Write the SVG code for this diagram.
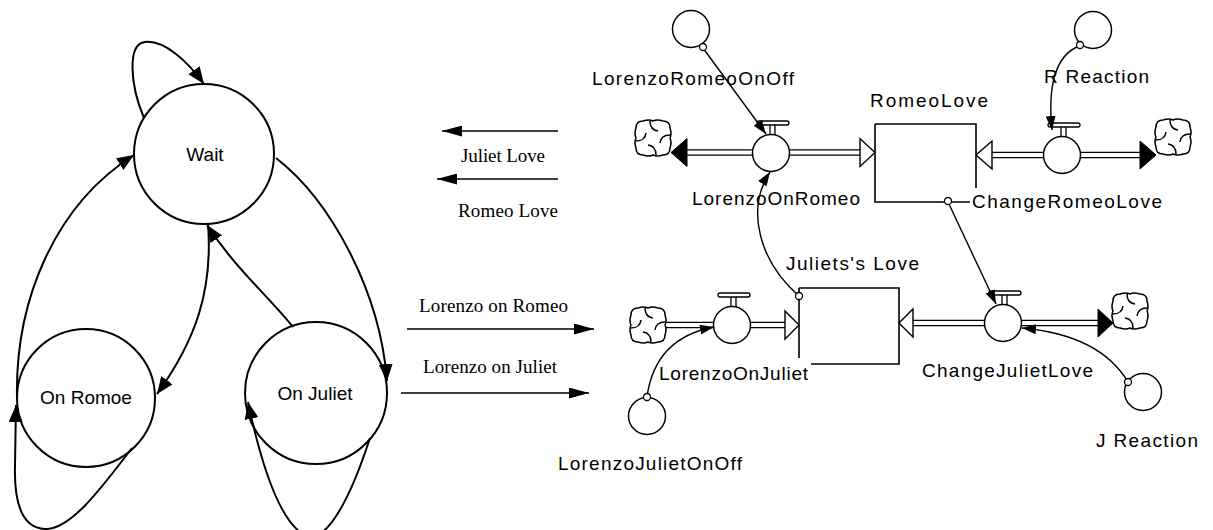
<svg xmlns="http://www.w3.org/2000/svg" width="1213" height="530" viewBox="0 0 1213 530">
<style>
.st{fill:#fff;stroke:#000;stroke-width:2}
.tr{fill:none;stroke:#000;stroke-width:2}
.sans{font-family:"Liberation Sans",Arial,sans-serif;font-size:19px;fill:#000}
.ser{font-family:"Liberation Serif","Times New Roman",serif;font-size:19px;fill:#000}
.box{fill:none;stroke:#000;stroke-width:1.6}
.aux{fill:#fff;stroke:#000;stroke-width:1.5}
.cn{fill:none;stroke:#000;stroke-width:1.4}
.dot{fill:#fff;stroke:#000;stroke-width:1.3}
.pipeO{stroke:#000;stroke-width:6.5;fill:none}
.pipeI{stroke:#fff;stroke-width:4;fill:none}
.hol{fill:#fff;stroke:#000;stroke-width:1.4}
.fil{fill:#000;stroke:#000;stroke-width:1}
.bg{fill:#fff}
</style>
<defs>
<marker id="aL" markerUnits="userSpaceOnUse" markerWidth="18" markerHeight="14" refX="17" refY="7" orient="auto"><path d="M0,0 L17,7 L0,14 Z" fill="#000"/></marker>
<marker id="aM" markerUnits="userSpaceOnUse" markerWidth="21" markerHeight="11" refX="20" refY="5.5" orient="auto"><path d="M0,0 L20,5.5 L0,11 Z" fill="#000"/></marker>
<marker id="aC" markerUnits="userSpaceOnUse" markerWidth="15" markerHeight="11" refX="14" refY="5" orient="auto"><path d="M0,0 L14,5 L0,10 Z" fill="#000"/></marker>
<g id="cloud">
<path d="M-10,-17 Q-4,-19 0,-17 Q4,-19 10,-17 Q17,-17 17,-10 Q19,-4 17,0 Q19,4 17,10 Q17,17 10,17 Q4,19 0,17 Q-4,19 -10,17 Q-17,17 -17,10 Q-19,4 -17,0 Q-19,-4 -17,-10 Q-17,-17 -10,-17 Z" fill="#fff" stroke="#000" stroke-width="1.5"/>
<path d="M-3,-17 Q-3,-8 5,-7 M17,-3 Q8,-3 7,5 M3,17 Q3,8 -5,7 M-17,3 Q-8,3 -7,-5" fill="none" stroke="#000" stroke-width="1.5"/>
</g>
<g id="valve">
<rect x="-14" y="-32" width="32" height="4" rx="2" fill="#fff" stroke="#000" stroke-width="1.3"/>
<path d="M-1,-28 V-18 M4,-28 V-18" stroke="#000" stroke-width="1.3"/>
<circle r="18.5" fill="#fff" stroke="#000" stroke-width="1.5"/>
</g>
</defs>
<rect width="1213" height="530" fill="#fff"/>

<!-- state chart -->
<g id="state-wait"><circle class="st" cx="204" cy="154" r="70"/><text class="sans" x="205" y="161" text-anchor="middle">Wait</text></g>
<g id="state-onromoe"><circle class="st" cx="86" cy="398" r="69"/><text class="sans" x="86" y="404" text-anchor="middle">On Romoe</text></g>
<g id="state-onjuliet"><circle class="st" cx="316" cy="393" r="71"/><text class="sans" x="315" y="400" text-anchor="middle">On Juliet</text></g>

<!-- stocks -->
<g id="stock-romeolove">
<path class="box" d="M875,124 H976 V188 M875,124 V202 H972"/>
<text class="sans" x="870" y="107" textLength="118" lengthAdjust="spacing">RomeoLove</text>
</g>
<g id="stock-julietslove">
<path class="box" d="M799,288 H899 V364 H810 M799,288 V358"/>
<text class="sans" x="786" y="270" textLength="133" lengthAdjust="spacing">Juliets's Love</text>
</g>

<!-- flows -->
<g id="flow-lorenzoonromeo">
<path class="pipeO" d="M686,152.5 H862"/><path class="pipeI" d="M684,152.5 H864"/>
<path class="fil" d="M671,152.5 L687,138.5 L687,166.5 Z"/>
<path class="hol" d="M875,152.5 L860,138.5 L860,166.5 Z"/>
<use href="#cloud" x="653" y="138"/>
<use href="#valve" x="771" y="153"/>
<text class="sans" x="692" y="205" textLength="168" lengthAdjust="spacing">LorenzoOnRomeo</text>
</g>
<g id="flow-changeromeolove">
<path class="pipeO" d="M990,155 H1142"/><path class="pipeI" d="M988,155 H1144"/>
<path class="hol" d="M976,155 L992,141 L992,169 Z"/>
<path class="fil" d="M1156,155 L1140,141 L1140,169 Z"/>
<use href="#cloud" x="1173" y="137"/>
<use href="#valve" x="1062" y="155"/>
<rect class="bg" x="970" y="188" width="196" height="25"/>
<text class="sans" x="972" y="208" textLength="190" lengthAdjust="spacing">ChangeRomeoLove</text>
</g>
<g id="flow-lorenzoonjuliet">
<path class="pipeO" d="M664,325 H787"/><path class="pipeI" d="M662,325 H789"/>
<path class="hol" d="M799,325 L785,311 L785,339 Z"/>
<use href="#cloud" x="648" y="325"/>
<use href="#valve" x="732" y="325"/>
<rect class="bg" x="657" y="358" width="154" height="25"/>
<text class="sans" x="659" y="380" textLength="149" lengthAdjust="spacing">LorenzoOnJuliet</text>
</g>
<g id="flow-changejulietlove">
<path class="pipeO" d="M911,323 H1100"/><path class="pipeI" d="M909,323 H1102"/>
<path class="hol" d="M899,323 L913,309 L913,337 Z"/>
<path class="fil" d="M1113,323 L1098,309 L1098,337 Z"/>
<use href="#cloud" x="1130" y="311"/>
<use href="#valve" x="1003" y="323"/>
<text class="sans" x="922" y="377" textLength="171" lengthAdjust="spacing">ChangeJulietLove</text>
</g>

<!-- auxiliaries -->
<g id="aux-lorenzoromeoonoff"><circle class="aux" cx="691" cy="29" r="18.5"/><text class="sans" x="592" y="85" textLength="202" lengthAdjust="spacing">LorenzoRomeoOnOff</text></g>
<g id="aux-rreaction"><circle class="aux" cx="1093" cy="30" r="18.5"/><text class="sans" x="1044" y="83" textLength="105" lengthAdjust="spacing">R Reaction</text></g>
<g id="aux-lorenzojulietonoff"><circle class="aux" cx="647" cy="416" r="18.5"/><text class="sans" x="558" y="470" textLength="184" lengthAdjust="spacing">LorenzoJulietOnOff</text></g>
<g id="aux-jreaction"><circle class="aux" cx="1143" cy="392" r="18.5"/><text class="sans" x="1096" y="447" textLength="102" lengthAdjust="spacing">J Reaction</text></g>

<!-- middle labels -->
<g id="msg-labels">
<text class="ser" x="461" y="162" textLength="84" lengthAdjust="spacing">Juliet Love</text>
<text class="ser" x="458" y="217" textLength="100" lengthAdjust="spacing">Romeo Love</text>
<text class="ser" x="419" y="312" textLength="149" lengthAdjust="spacing">Lorenzo on Romeo</text>
<text class="ser" x="423" y="373" textLength="134" lengthAdjust="spacing">Lorenzo on Juliet</text>
</g>

<g id="connectors">
<!-- state transitions -->
<path class="tr" marker-end="url(#aL)" d="M144,118 C130,85 127,44 145,42 C165,40 188,62 204,84"/>
<path class="tr" marker-end="url(#aL)" d="M17,398 C15,300 55,205 134,155"/>
<path class="tr" marker-end="url(#aL)" d="M208,224 C213,290 196,340 157,394"/>
<path class="tr" marker-end="url(#aL)" d="M293,327 C270,298 235,268 207,225"/>
<path class="tr" marker-end="url(#aL)" d="M276,158 C330,200 380,290 387,381"/>
<path class="tr" marker-end="url(#aL)" d="M132,448 C100,490 70,530 45,529 C20,528 14,500 15,465 L16,405"/>
<path class="tr" marker-end="url(#aL)" d="M370,438 Q340,530 312,538 Q275,530 248,402"/>
<!-- message arrows -->
<path class="cn" stroke-width="1.8" marker-end="url(#aM)" d="M558,131 H442"/>
<path class="cn" stroke-width="1.8" marker-end="url(#aM)" d="M558,179 H437"/>
<path class="cn" stroke-width="1.8" marker-end="url(#aM)" d="M407,329 H594"/>
<path class="cn" stroke-width="1.8" marker-end="url(#aM)" d="M401,393 H589"/>
<!-- info connectors -->
<path class="cn" marker-end="url(#aC)" d="M703,48 L766,134"/>
<circle class="dot" cx="703" cy="47" r="3.5"/>
<path class="cn" marker-end="url(#aC)" d="M1079,46 Q1045,60 1052,130"/>
<circle class="dot" cx="1080" cy="45" r="3.5"/>
<path class="cn" marker-end="url(#aC)" d="M799,296 C760,262 745,210 770,172"/>
<circle class="dot" cx="799" cy="296" r="3.5"/>
<path class="cn" marker-end="url(#aC)" d="M948,202 L996,304"/>
<circle class="dot" cx="948" cy="201" r="3.5"/>
<path class="cn" marker-end="url(#aC)" d="M647,397 Q655,338 714,327"/>
<circle class="dot" cx="647" cy="397" r="3.5"/>
<path class="cn" marker-end="url(#aC)" d="M1128,382 Q1100,335 1022,328"/>
<circle class="dot" cx="1128" cy="382" r="3.5"/>
</g>
</svg>
